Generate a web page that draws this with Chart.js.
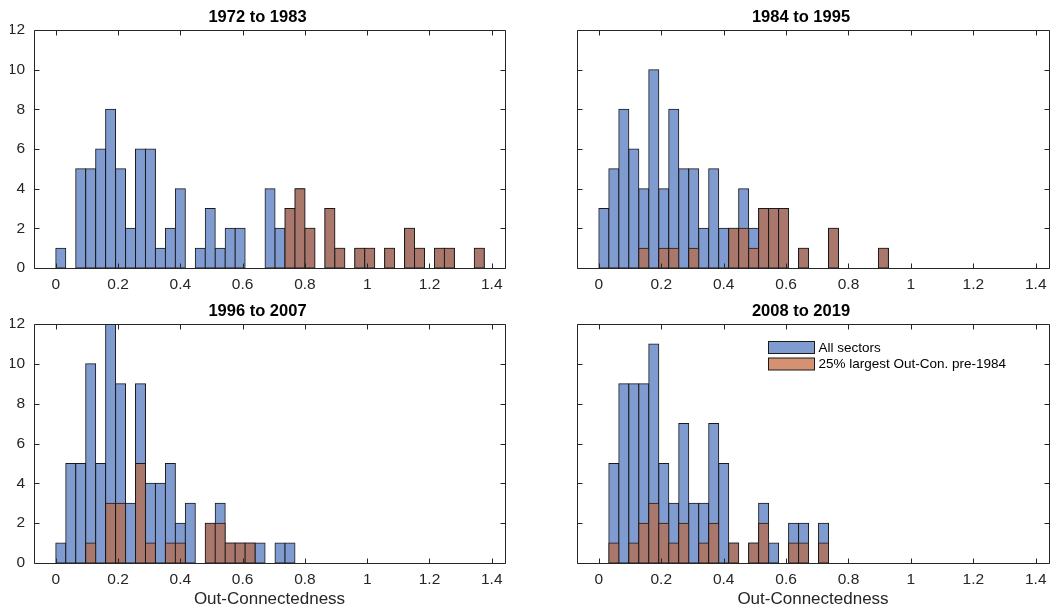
<!DOCTYPE html>
<html lang="en">
<head>
<meta charset="UTF-8">
<title>Out-Connectedness histograms</title>
<script src="https://cdn.jsdelivr.net/npm/chart.js@4"></script>
<style>
  body { margin: 0; background: #fff; }
  #fig { position: relative; width: 1058px; height: 612px; background: #fff; }
  #fig canvas { position: absolute; }
</style>
</head>
<body>
<div id="fig">
  <canvas id="p1" width="515" height="300" style="left:0;top:0"></canvas>
  <canvas id="p2" width="515" height="300" style="left:540px;top:0"></canvas>
  <canvas id="p3" width="515" height="318" style="left:0;top:294px"></canvas>
  <canvas id="p4" width="515" height="318" style="left:540px;top:294px"></canvas>
</div>

<script>
// bin centres (bin width 0.032)
const binCenters = [0.016, 0.048, 0.080, 0.112, 0.144, 0.176, 0.208, 0.240, 0.272, 0.304,
                    0.336, 0.368, 0.400, 0.432, 0.464, 0.496, 0.528, 0.560, 0.592, 0.624,
                    0.656, 0.688, 0.720, 0.752, 0.784, 0.816, 0.848, 0.880, 0.912, 0.944,
                    0.976, 1.008, 1.040, 1.072, 1.104, 1.136, 1.168, 1.200, 1.232, 1.264,
                    1.296, 1.328, 1.360];

const periods = ['1972 to 1983', '1984 to 1995', '1996 to 2007', '2008 to 2019'];
const seriesLabels = ['All sectors', '25% largest Out-Con. pre-1984'];
const xAxisTitle = 'Out-Connectedness';

// counts per bin
const all1972 = [1,0,5,5,6,8,5,2,6,6,1,2,4,0,1,3,1,2,2,0,0,4,2,3,4,2,0,3,1,0,1,1,0,1,0,2,1,0,1,1,0,0,1];
const top1972 = [0,0,0,0,0,0,0,0,0,0,0,0,0,0,0,0,0,0,0,0,0,0,0,3,4,2,0,3,1,0,1,1,0,1,0,2,1,0,1,1,0,0,1];

const all1984 = [3,5,8,6,4,10,4,8,5,5,2,5,2,2,4,2,3,3,3,0,1,0,0,2,0,0,0,0,1];
const top1984 = [0,0,0,0,1,0,1,1,0,1,0,0,0,2,2,1,3,3,3,0,1,0,0,2,0,0,0,0,1];

const all1996 = [1,5,5,10,5,12,9,3,9,4,4,5,2,3,0,2,3,1,1,1,1,0,1,1];
const top1996 = [0,0,0,1,0,3,3,0,5,1,0,1,1,0,0,2,2,1,1,1,0,0,0,0];

const all2008 = [0,5,9,9,9,11,5,3,7,3,3,7,5,1,0,1,3,1,0,2,2,0,2];
const top2008 = [0,1,0,1,2,3,2,1,2,0,1,2,0,1,0,1,2,0,0,1,1,0,1];

const xTicks = [0, 0.2, 0.4, 0.6, 0.8, 1, 1.2, 1.4];
const xTickLabels = ['0', '0.2', '0.4', '0.6', '0.8', '1', '1.2', '1.4'];
const yTicks = [0, 2, 4, 6, 8, 10, 12];

const FONT = '"Liberation Sans", Arial, Helvetica, sans-serif';
const BLUE = 'rgb(127,155,208)';
const BROWN = 'rgb(170,119,108)';
const ORANGE = 'rgb(212,146,114)';
const EDGE = '#1a1a1a';
const AXIS = '#262626';

// box around the axes with inward ticks on all four sides
const matlabBox = {
  id: 'matlabBox',
  afterDatasetsDraw(chart) {
    const { ctx, chartArea: a, scales: { x, y } } = chart;
    const L = Math.round(a.left) + 0.5, R = Math.round(a.right) + 0.5;
    const T = Math.round(a.top) + 0.5, B = Math.round(a.bottom) + 0.5;
    const len = 5;
    ctx.save();
    ctx.strokeStyle = AXIS;
    ctx.lineWidth = 1;
    ctx.beginPath();
    ctx.rect(L, T, R - L, B - T);
    xTicks.forEach(v => {
      const px = Math.round(x.getPixelForValue(v)) + 0.5;
      ctx.moveTo(px, B); ctx.lineTo(px, B - len);
      ctx.moveTo(px, T); ctx.lineTo(px, T + len);
    });
    yTicks.forEach(v => {
      const py = Math.round(y.getPixelForValue(v)) + 0.5;
      ctx.moveTo(L, py); ctx.lineTo(L + len, py);
      ctx.moveTo(R, py); ctx.lineTo(R - len, py);
    });
    ctx.stroke();
    ctx.restore();
  }
};

// legend inside the last panel
const legendBox = {
  id: 'legendBox',
  afterDraw(chart) {
    const { ctx, chartArea: a } = chart;
    const swatches = [BLUE, ORANGE];
    ctx.save();
    ctx.font = '13.5px ' + FONT;
    ctx.textBaseline = 'middle';
    seriesLabels.forEach((name, i) => {
      const x = Math.round(a.left) + 191.5;
      const y = Math.round(a.top) + 17.5 + i * 16.5;
      ctx.fillStyle = swatches[i];
      ctx.fillRect(x, y, 46, 12);
      ctx.strokeStyle = EDGE;
      ctx.lineWidth = 1;
      ctx.strokeRect(x, y, 46, 12);
      ctx.fillStyle = '#000';
      ctx.fillText(name, x + 50, y + 6.5);
    });
    ctx.restore();
  }
};

function barSet(label, data, color, order) {
  return {
    label: label,
    data: data,
    backgroundColor: color,
    borderColor: EDGE,
    borderWidth: 1,
    borderSkipped: false,
    inflateAmount: 0.5,
    grouped: false,
    barPercentage: 1,
    categoryPercentage: 1,
    order: order
  };
}

function makePanel(id, title, all, top, o) {
  const plugins = [matlabBox];
  if (o.legend) plugins.push(legendBox);
  return new Chart(document.getElementById(id), {
    type: 'bar',
    data: {
      labels: binCenters,
      datasets: [
        barSet(seriesLabels[1], top, BROWN, 1),
        barSet(seriesLabels[0], all, BLUE, 2)
      ]
    },
    options: {
      responsive: false,
      animation: false,
      devicePixelRatio: 1,
      layout: { padding: { left: o.padL, right: o.padR, top: 0, bottom: 0 }, autoPadding: false },
      plugins: {
        legend: { display: false },
        tooltip: { enabled: false },
        title: {
          display: true,
          text: title,
          color: '#000',
          font: { family: FONT, size: 16.5, weight: 'bold' },
          padding: { top: 8, bottom: 2.2 }
        }
      },
      scales: {
        x: {
          type: 'linear',
          offset: false,
          min: -0.07,
          max: 1.4425,
          grid: { display: false, drawTicks: false },
          border: { display: false },
          afterBuildTicks: s => { s.ticks = xTicks.map(v => ({ value: v })); },
          ticks: {
            autoSkip: false,
            maxRotation: 0,
            padding: 7,
            color: AXIS,
            font: { family: FONT, size: 15.5 },
            callback: (v, i) => xTickLabels[i]
          },
          title: {
            display: o.xTitle,
            text: xAxisTitle,
            color: AXIS,
            font: { family: FONT, size: 17 },
            padding: { top: 0, bottom: 2.4 }
          },
          afterFit: s => { s.height = o.xh; }
        },
        y: {
          min: 0,
          max: 12,
          grid: { display: false, drawTicks: false },
          border: { display: false },
          afterBuildTicks: s => { s.ticks = yTicks.map(v => ({ value: v })); },
          ticks: {
            display: o.yLabels,
            padding: 9,
            color: AXIS,
            font: { family: FONT, size: 15.5 }
          },
          afterFit: s => { s.width = 24; }
        }
      }
    },
    plugins: plugins
  });
}

makePanel('p1', periods[0], all1972, top1972, { padL: 10, padR: 10, xh: 32, yLabels: true, xTitle: false });
makePanel('p2', periods[1], all1984, top1984, { padL: 13, padR: 6, xh: 32, yLabels: false, xTitle: false });
makePanel('p3', periods[2], all1996, top1996, { padL: 10, padR: 10, xh: 49, yLabels: true, xTitle: true });
makePanel('p4', periods[3], all2008, top2008, { padL: 13, padR: 6, xh: 49, yLabels: false, xTitle: true, legend: true });
</script>
</body>
</html>
